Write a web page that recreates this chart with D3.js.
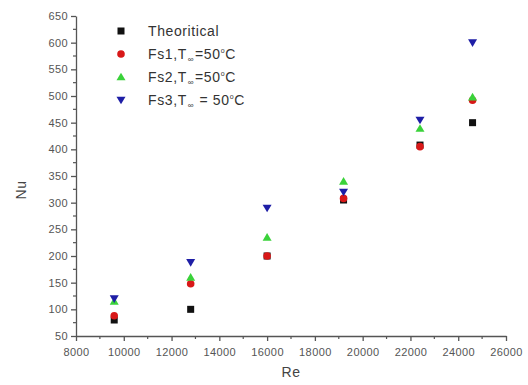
<!DOCTYPE html>
<html>
<head>
<meta charset="utf-8">
<script src="https://cdn.jsdelivr.net/npm/d3@7"></script>
<style>
  body { margin: 0; background: #fff; }
  svg { display: block; font-family: "Liberation Sans", Arial, sans-serif; }
</style>
</head>
<body>
<svg id="chart" width="528" height="385"></svg>
<script>
const re = [9600, 12800, 16000, 19200, 22400, 24600];
const theoretical = [80, 100, 200, 305, 408, 450];
const fs1 = [88, 148, 200, 308, 405, 492];
const fs2 = [115, 160, 235, 340, 439, 498];
const fs3 = [120, 188, 290, 320, 455, 600];
const xTicks = [8000, 10000, 12000, 14000, 16000, 18000, 20000, 22000, 24000, 26000];
const yTicks = [50, 100, 150, 200, 250, 300, 350, 400, 450, 500, 550, 600, 650];

const series = [
  { name: "Theoritical", values: theoretical, color: "#111", shape: "square" },
  { name: "Fs1", values: fs1, color: "#d81818", shape: "circle" },
  { name: "Fs2", values: fs2, color: "#3ad23a", shape: "up" },
  { name: "Fs3", values: fs3, color: "#1e1ea6", shape: "down" }
];

const svg = d3.select("#chart");
const x = d3.scaleLinear().domain([8000, 26000]).range([76, 506]);
const y = d3.scaleLinear().domain([50, 650]).range([336, 16]);

// minor ticks
const xMinor = d3.range(9000, 26000, 2000);
const yMinor = d3.range(75, 650, 50);

const axisColor = "#555";
const xAxis = svg.append("g").attr("transform", "translate(0,336)")
  .call(d3.axisBottom(x).tickValues(xTicks).tickFormat(d3.format("d")).tickSize(5).tickSizeOuter(0));
xAxis.selectAll("line, path").attr("stroke", axisColor).attr("stroke-width", 1.3);
xAxis.selectAll("text").attr("fill", "#555").attr("font-size", 11)
  .attr("letter-spacing", 0.4).attr("dy", "1.05em");
svg.append("g").selectAll("line").data(xMinor).join("line")
  .attr("x1", d => x(d)).attr("x2", d => x(d)).attr("y1", 336).attr("y2", 339)
  .attr("stroke", axisColor).attr("stroke-width", 1.2);

const yAxis = svg.append("g").attr("transform", "translate(76,0)")
  .call(d3.axisLeft(y).tickValues(yTicks).tickSize(5).tickSizeOuter(0));
yAxis.selectAll("line, path").attr("stroke", axisColor).attr("stroke-width", 1.3);
yAxis.selectAll("text").attr("fill", "#555").attr("font-size", 11).attr("letter-spacing", 0.4);
svg.append("g").selectAll("line").data(yMinor).join("line")
  .attr("x1", 73).attr("x2", 76).attr("y1", d => y(d)).attr("y2", d => y(d))
  .attr("stroke", axisColor).attr("stroke-width", 1.2);

// axis titles
svg.append("text").attr("x", 291).attr("y", 377).attr("text-anchor", "middle")
  .attr("font-size", 14).attr("letter-spacing", 0.5).attr("fill", "#444").text("Re");
svg.append("text").attr("transform", "translate(26,190) rotate(-90)").attr("text-anchor", "middle")
  .attr("font-size", 14).attr("letter-spacing", 0.5).attr("fill", "#444").text("Nu");

function marker(sel, shape, color, s) {
  if (shape === "square") {
    sel.append("rect").attr("x", -s / 2).attr("y", -s / 2).attr("width", s).attr("height", s).attr("fill", color);
  } else if (shape === "circle") {
    sel.append("circle").attr("r", s / 2 + 0.3).attr("fill", color);
  } else if (shape === "up") {
    const h = s * 0.95;
    sel.append("path").attr("d", `M0,${-h / 2 - 1} L${s / 2 + 1},${h / 2} L${-s / 2 - 1},${h / 2} Z`).attr("fill", color);
  } else {
    const h = s * 0.95;
    sel.append("path").attr("d", `M0,${h / 2 + 1} L${s / 2 + 1},${-h / 2} L${-s / 2 - 1},${-h / 2} Z`).attr("fill", color);
  }
}

series.forEach(s => {
  const g = svg.append("g");
  s.values.forEach((v, i) => {
    const m = g.append("g").attr("transform", `translate(${x(re[i])},${y(v)})`);
    marker(m, s.shape, s.color, 7);
  });
});

// legend
const legendRows = [
  { label: ["Theoritical"] },
  { label: ["Fs1,T", "∞", "=50", "o", "C"] },
  { label: ["Fs2,T", "∞", "=50", "o", "C"] },
  { label: ["Fs3,T", "∞", " = 50", "o", "C"] }
];
const legend = svg.append("g");
legendRows.forEach((r, i) => {
  const yy = 31 + i * 23;
  const m = legend.append("g").attr("transform", `translate(121,${yy})`);
  marker(m, series[i].shape, series[i].color, 7);
  const t = legend.append("text").attr("x", 148).attr("y", yy + 5)
    .attr("font-size", 14).attr("letter-spacing", 0.6).attr("fill", "#333");
  if (r.label.length === 1) {
    t.text(r.label[0]);
  } else {
    t.append("tspan").text(r.label[0]);
    t.append("tspan").attr("font-size", 8).attr("dx", 1).attr("dy", 3).text(r.label[1]);
    t.append("tspan").attr("dx", 1).attr("dy", -3).text(r.label[2]);
    t.append("tspan").attr("font-size", 7).attr("dy", -6).text(r.label[3]);
    t.append("tspan").attr("dy", 6).text(r.label[4]);
  }
});
</script>
</body>
</html>
